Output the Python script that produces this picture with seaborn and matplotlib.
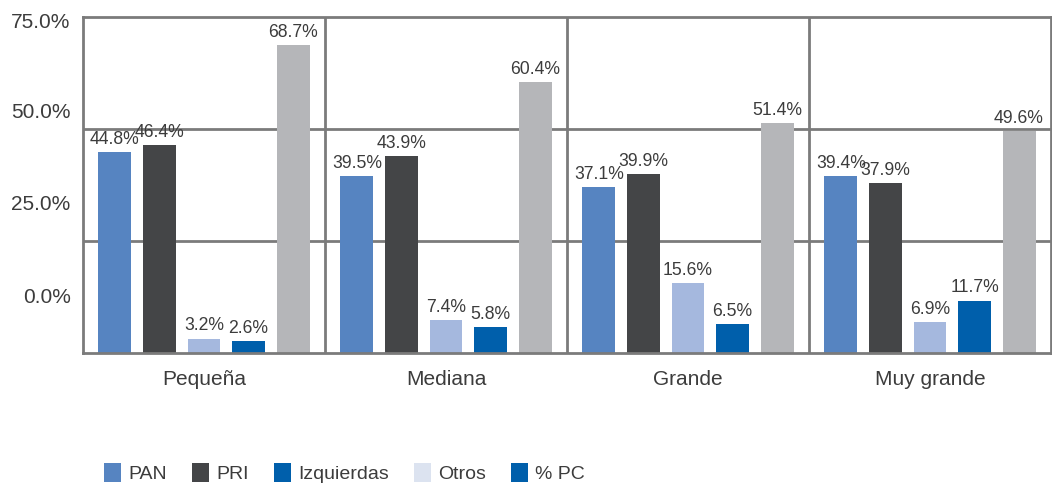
import matplotlib
matplotlib.use("Agg")
import matplotlib.pyplot as plt
from matplotlib.patches import Patch
import seaborn as sns
import pandas as pd

# Data
sizes = ["Pequeña", "Mediana", "Grande", "Muy grande"]
series = ["PAN", "PRI", "Otros", "Izquierdas", "% PC"]
pan = [44.8, 39.5, 37.1, 39.4]
pri = [46.4, 43.9, 39.9, 37.9]
otros = [3.2, 7.4, 15.6, 6.9]
izquierdas = [2.6, 5.8, 6.5, 11.7]
pc = [68.7, 60.4, 51.4, 49.6]
ytick_labels = ["75.0%", "50.0%", "25.0%", "0.0%"]
legend_labels = ["PAN", "PRI", "Izquierdas", "Otros", "% PC"]

bar_colors = ["#5684c1", "#444547", "#a5b8de", "#005fab", "#b5b6b9"]
legend_colors = ["#5684c1", "#444547", "#005fab", "#dce3f0", "#005fab"]
line_color = "#7b7b7b"
text_color = "#3c3c3c"

rows = []
for name, vals in zip(series, [pan, pri, otros, izquierdas, pc]):
    for s, v in zip(sizes, vals):
        rows.append({"tamaño": s, "serie": name, "valor": v})
df = pd.DataFrame(rows)

sns.set_theme(style="white")
plt.rcParams["font.family"] = ["Liberation Sans", "DejaVu Sans"]

fig = plt.figure(figsize=(10.52, 4.86), dpi=100)
ax = fig.add_axes([83 / 1052, 133 / 486, 968 / 1052, 336 / 486])

sns.barplot(data=df, x="tamaño", y="valor", hue="serie", order=sizes,
            hue_order=series, palette=bar_colors, width=0.92, gap=0.26,
            saturation=1, legend=False, linewidth=0, edgecolor="none", ax=ax)

for cont in ax.containers:
    ax.bar_label(cont, labels=[f"{b.get_height():.1f}%" for b in cont],
                 padding=3, fontsize=12.7, color=text_color)

ax.set_xlim(-0.5, 3.5)
ax.set_ylim(0, 75)

# frame, horizontal grid and group separators
for sp in ax.spines.values():
    sp.set_visible(True)
    sp.set_color(line_color)
    sp.set_linewidth(2.0)
for g in (25, 50):
    ax.axhline(g, color=line_color, lw=2.0, zorder=0)
for xsep in (0.5, 1.5, 2.5):
    ax.axvline(xsep, color=line_color, lw=2.0, zorder=0)

ax.set_yticks([74.3, 54.2, 33.7, 12.9])
ax.set_yticklabels(ytick_labels)
ax.tick_params(axis="y", length=0, pad=9, labelsize=15, labelcolor=text_color)
ax.tick_params(axis="x", length=0, pad=12, labelsize=15, labelcolor=text_color)
ax.set_xlabel("")
ax.set_ylabel("")

handles = [Patch(facecolor=c, edgecolor="none") for c in legend_colors]
fig.legend(handles, legend_labels, loc="center left",
           bbox_to_anchor=(104 / 1052, 13 / 486), ncol=5, frameon=False,
           fontsize=14, labelcolor=text_color, handlelength=0.88,
           handleheight=1.13, handletextpad=0.36, columnspacing=1.3,
           borderaxespad=0, borderpad=0)

fig.savefig("out.png", dpi=100)
